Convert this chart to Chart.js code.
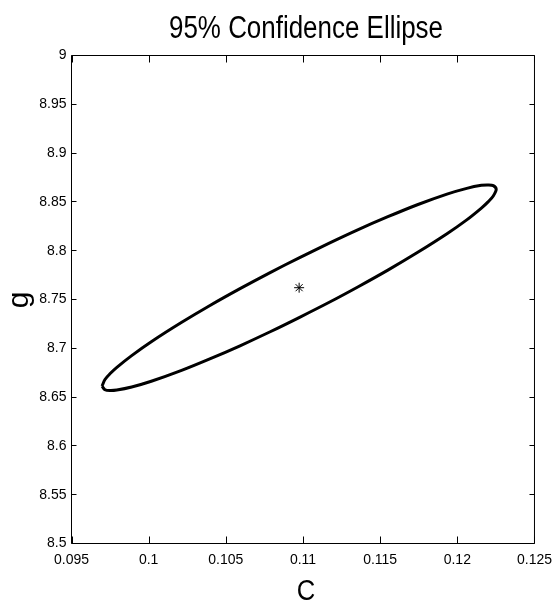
<!DOCTYPE html>
<html><head><meta charset="utf-8">
<script src="https://cdn.jsdelivr.net/npm/chart.js@4.4.0/dist/chart.umd.min.js"></script>
<style>html,body{margin:0;padding:0;background:#fff;}</style>
</head><body>
<canvas id="c" width="560" height="601" style="width:560px;height:601px;display:block"></canvas>
<script>
const titleText = '95% Confidence Ellipse';
const xLabel = 'C';
const yLabel = 'g';
const xTickValues = [0.095, 0.1, 0.105, 0.11, 0.115, 0.12, 0.125];
const xTickLabels = ['0.095', '0.1', '0.105', '0.11', '0.115', '0.12', '0.125'];
const yTickValues = [8.5, 8.55, 8.6, 8.65, 8.7, 8.75, 8.8, 8.85, 8.9, 8.95, 9];
const yTickLabels = ['8.5', '8.55', '8.6', '8.65', '8.7', '8.75', '8.8', '8.85', '8.9', '8.95', '9'];

// ellipse outline (upper branch left->right, then lower branch right->left)
const ellipseC = [0.09698, 0.09717, 0.09749, 0.09794, 0.09890, 0.10017, 0.10209, 0.10400, 0.10592, 0.10784,
  0.10975, 0.11167, 0.11358, 0.11550, 0.11741, 0.11933, 0.12061, 0.12156, 0.12201, 0.12233, 0.12252,
  0.12233, 0.12201, 0.12156, 0.12061, 0.11933, 0.11741, 0.11550, 0.11358, 0.11167, 0.10975,
  0.10784, 0.10592, 0.10400, 0.10209, 0.10017, 0.09890, 0.09794, 0.09749, 0.09717, 0.09698];
const ellipseG = [8.6613, 8.6681, 8.6739, 8.6805, 8.6925, 8.7067, 8.7261, 8.7441, 8.7611, 8.7773,
  8.7927, 8.8075, 8.8216, 8.8348, 8.8471, 8.8580, 8.8639, 8.8670, 8.8674, 8.8667, 8.8629,
  8.8561, 8.8503, 8.8437, 8.8316, 8.8174, 8.7981, 8.7801, 8.7631, 8.7469, 8.7315,
  8.7167, 8.7026, 8.6894, 8.6771, 8.6662, 8.6603, 8.6572, 8.6567, 8.6575, 8.6613];
const centerC = [0.10975];
const centerG = [8.7621];

const ellipsePts = ellipseC.map((c, i) => ({x: c, y: ellipseG[i]}));
const centerPts = centerC.map((c, i) => ({x: c, y: centerG[i]}));

const frame = {
  id: 'frame',
  afterDraw(chart) {
    const ctx = chart.ctx, a = chart.chartArea;
    const xs = chart.scales.x, ys = chart.scales.y;
    ctx.save();
    ctx.strokeStyle = '#000';
    ctx.lineWidth = 1;
    ctx.beginPath();
    ctx.rect(a.left, a.top, a.right - a.left, a.bottom - a.top);
    ctx.stroke();
    ctx.beginPath();
    xTickValues.forEach(v => {
      const p = Math.round(xs.getPixelForValue(v)) + 0.5;
      ctx.moveTo(p, a.bottom); ctx.lineTo(p, a.bottom - 7);
      ctx.moveTo(p, a.top); ctx.lineTo(p, a.top + 7);
    });
    yTickValues.forEach(v => {
      const p = Math.round(ys.getPixelForValue(v) - 0.5) + 0.5;
      ctx.moveTo(a.left, p); ctx.lineTo(a.left + 5, p);
      ctx.moveTo(a.right, p); ctx.lineTo(a.right - 5, p);
    });
    ctx.stroke();

    ctx.fillStyle = '#000';
    // title
    ctx.font = "31px 'Liberation Sans Narrow', 'Liberation Sans', Arial, sans-serif";
    ctx.textAlign = 'center';
    ctx.textBaseline = 'alphabetic';
    let w = ctx.measureText(titleText).width;
    ctx.save();
    ctx.translate(306, 37.5);
    ctx.scale(274 / w, 1);
    ctx.fillText(titleText, 0, 0);
    ctx.restore();
    // x label
    ctx.font = "30px 'Liberation Sans Narrow', 'Liberation Sans', Arial, sans-serif";
    ctx.save();
    ctx.translate(306, 599.5);
    w = ctx.measureText(xLabel).width;
    ctx.scale(18.5 / w, 1);
    ctx.fillText(xLabel, 0, 0);
    ctx.restore();
    // y label
    ctx.save();
    ctx.translate(28, 300);
    ctx.rotate(-Math.PI / 2);
    ctx.fillText(yLabel, 0, 0);
    ctx.restore();
    ctx.restore();
  }
};

new Chart(document.getElementById('c'), {
  type: 'scatter',
  data: {
    datasets: [
      {data: ellipsePts, showLine: true, borderColor: '#000', backgroundColor: '#000', borderWidth: 3,
       pointRadius: 0, tension: 0.3, fill: false},
      {data: centerPts, showLine: false, pointStyle: 'star', pointRadius: 5, borderColor: '#000',
       backgroundColor: '#000', borderWidth: 1}
    ]
  },
  options: {
    responsive: false,
    animation: false,
    devicePixelRatio: 1,
    layout: {padding: {top: 55.5, right: 18.5, left: 0, bottom: 0}},
    plugins: {legend: {display: false}, title: {display: false}, tooltip: {enabled: false}},
    scales: {
      x: {
        type: 'linear', min: 0.095, max: 0.125,
        afterBuildTicks: s => { s.ticks = xTickValues.map(v => ({value: v})); },
        afterFit: s => { s.height = 57.5; },
        ticks: {callback: (v, i) => xTickLabels[i], font: {family: "'Liberation Sans', Arial, sans-serif", size: 14},
                color: '#000', padding: 8, maxRotation: 0, autoSkip: false},
        grid: {display: false, drawTicks: false},
        border: {display: false}
      },
      y: {
        type: 'linear', min: 8.5, max: 9,
        afterBuildTicks: s => { s.ticks = yTickValues.map(v => ({value: v})); },
        afterFit: s => { s.width = 71.5; },
        ticks: {callback: (v, i) => yTickLabels[i], font: {family: "'Liberation Sans', Arial, sans-serif", size: 14},
                color: '#000', padding: 5, autoSkip: false},
        grid: {display: false, drawTicks: false},
        border: {display: false}
      }
    }
  },
  plugins: [frame]
});
</script>
</body></html>
